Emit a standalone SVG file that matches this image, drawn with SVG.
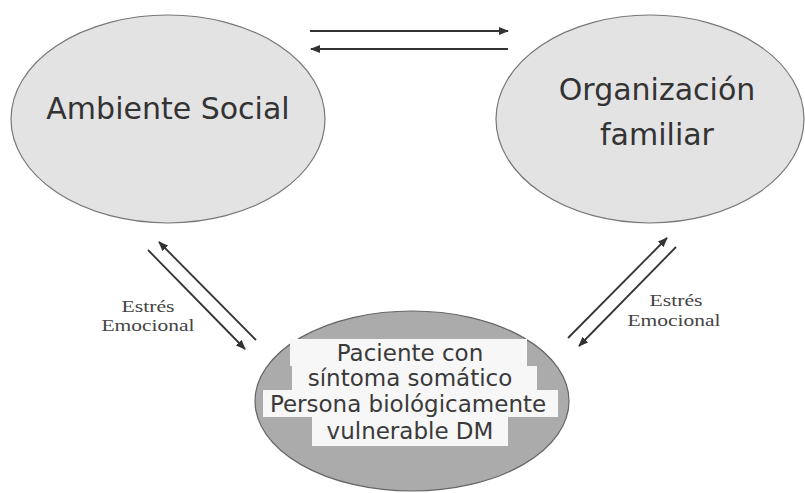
<svg xmlns="http://www.w3.org/2000/svg" width="805" height="493" viewBox="0 0 805 493">
<defs>
<marker id="ah" viewBox="0 0 10 8" refX="9" refY="4" markerWidth="10" markerHeight="8" markerUnits="userSpaceOnUse" orient="auto">
<path d="M0,0 L10,4 L0,8 Z" fill="#333"/>
</marker>
</defs>
<style>
.top{fill:#e3e3e3;stroke:#777;stroke-width:1.2}
.bot{fill:#ababab;stroke:#666;stroke-width:1.2}
.wb{fill:#f7f7f7}
.big{font-family:"DejaVu Sans","Liberation Sans",sans-serif;font-size:30px;fill:#333;text-anchor:middle}
.mid{font-family:"DejaVu Sans","Liberation Sans",sans-serif;font-size:23px;fill:#3a3a3a;text-anchor:middle}
.lbl{font-family:"Liberation Serif",serif;font-size:17px;fill:#444;text-anchor:middle}
.ln{stroke:#333;stroke-width:1.8;fill:none;marker-end:url(#ah)}
</style>
<rect width="805" height="493" fill="#fff"/>
<g id="ambiente-social">
<ellipse class="top" cx="168" cy="119" rx="157" ry="104"/>
<text class="big" x="168" y="119">Ambiente Social</text>
</g>
<g id="organizacion-familiar">
<ellipse class="top" cx="650" cy="119" rx="154" ry="104"/>
<text class="big" x="657" y="100">Organización</text>
<text class="big" x="657" y="145">familiar</text>
</g>
<g id="paciente">
<ellipse class="bot" cx="412" cy="401" rx="157" ry="90"/>
<rect class="wb" x="290" y="339" width="237" height="27"/>
<rect class="wb" x="292" y="366" width="245" height="24"/>
<rect class="wb" x="263" y="390" width="295" height="27"/>
<rect class="wb" x="312" y="417" width="196" height="29"/>
<text class="mid" x="410" y="361">Paciente con</text>
<text class="mid" x="410" y="386">síntoma somático</text>
<text class="mid" x="408" y="412">Persona biológicamente</text>
<text class="mid" x="410" y="439">vulnerable DM</text>
</g>
<g id="connectors">
<line class="ln" x1="310" y1="31" x2="508" y2="31"/>
<line class="ln" x1="508" y1="49" x2="311" y2="49"/>
<line class="ln" x1="256" y1="340" x2="159" y2="242"/>
<line class="ln" x1="148" y1="250" x2="245" y2="349"/>
<line class="ln" x1="568" y1="338" x2="667" y2="238"/>
<line class="ln" x1="676" y1="247" x2="579" y2="346"/>
</g>
<g id="labels">
<text class="lbl" x="148" y="312" textLength="53" lengthAdjust="spacingAndGlyphs">Estrés</text>
<text class="lbl" x="148" y="331" textLength="93" lengthAdjust="spacingAndGlyphs">Emocional</text>
<text class="lbl" x="676" y="306" textLength="53" lengthAdjust="spacingAndGlyphs">Estrés</text>
<text class="lbl" x="674" y="326" textLength="93" lengthAdjust="spacingAndGlyphs">Emocional</text>
</g>
</svg>
